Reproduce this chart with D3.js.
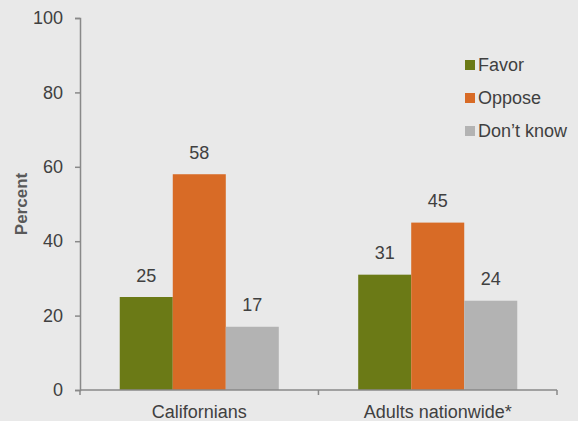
<!DOCTYPE html>
<html>
<head>
<meta charset="utf-8">
<script src="https://cdn.jsdelivr.net/npm/d3@7"></script>
<style>
  html, body { margin: 0; padding: 0; background: #e9e9e9; }
  svg { display: block; font-family: Arial, "Liberation Sans", sans-serif; }
</style>
</head>
<body>
<svg id="chart" width="578" height="421"></svg>
<script>
// Survey responses by group (percent)
const categories = ["Californians", "Adults nationwide*"];
const seriesNames = ["Favor", "Oppose", "Don\u2019t know"];
const favor = [25, 31];
const oppose = [58, 45];
const dontKnow = [17, 24];
const yTicks = [0, 20, 40, 60, 80, 100];
const colors = ["#6b7a16", "#d86b26", "#b3b3b3"];

const seriesValues = [favor, oppose, dontKnow];

const svg = d3.select("#chart");
const margin = { left: 80, right: 21, top: 18, bottom: 31 };
const W = 578, H = 421;

const x0 = d3.scaleBand()
  .domain(categories)
  .range([margin.left, W - margin.right])
  .paddingInner(0.333)
  .paddingOuter(0.1667);

const x1 = d3.scaleBand()
  .domain(seriesNames)
  .range([0, x0.bandwidth()]);

const y = d3.scaleLinear().domain([0, 100]).range([H - margin.bottom, margin.top]);

const axisColor = "#898989";
const textColor = "#404040";
const fontSize = "18px";

// Y axis
const yAxis = svg.append("g")
  .attr("transform", `translate(${margin.left},0)`)
  .call(d3.axisLeft(y).tickValues(yTicks).tickSize(5).tickPadding(12));
yAxis.select(".domain").attr("stroke", axisColor).attr("stroke-width", 1.5);
yAxis.selectAll(".tick line").attr("stroke", axisColor).attr("stroke-width", 1.5);
yAxis.selectAll(".tick text").attr("fill", textColor).style("font-size", fontSize);

// Y axis title
svg.append("text")
  .attr("transform", `translate(27,${(y(0) + y(100)) / 2}) rotate(-90)`)
  .attr("text-anchor", "middle")
  .attr("fill", "#595959")
  .style("font-size", "17px")
  .style("font-weight", "bold")
  .text("Percent");

// Bars
const groups = svg.append("g").selectAll("g")
  .data(categories)
  .join("g")
  .attr("transform", d => `translate(${x0(d)},0)`);

const cells = (c, ci) => seriesNames.map((s, si) => ({ s, si, v: seriesValues[si][ci] }));

groups.selectAll("rect")
  .data(cells)
  .join("rect")
  .attr("x", d => x1(d.s))
  .attr("y", d => y(d.v))
  .attr("width", x1.bandwidth())
  .attr("height", d => y(0) - y(d.v))
  .attr("fill", d => colors[d.si]);

groups.selectAll("text.val")
  .data(cells)
  .join("text")
  .attr("class", "val")
  .attr("x", d => x1(d.s) + x1.bandwidth() / 2)
  .attr("y", d => y(d.v) - 15.5)
  .attr("text-anchor", "middle")
  .attr("fill", textColor)
  .style("font-size", fontSize)
  .text(d => d.v);

// X axis with ticks at category boundaries
const xBase = y(0);
const xAxisG = svg.append("g");
xAxisG.append("line")
  .attr("x1", margin.left).attr("x2", W - margin.right)
  .attr("y1", xBase).attr("y2", xBase)
  .attr("stroke", axisColor).attr("stroke-width", 1.5);
const step = x0.step();
const boundaries = [margin.left, margin.left + step, W - margin.right];
xAxisG.selectAll("line.tick")
  .data(boundaries)
  .join("line")
  .attr("class", "tick")
  .attr("x1", d => d).attr("x2", d => d)
  .attr("y1", xBase).attr("y2", xBase + 5)
  .attr("stroke", axisColor).attr("stroke-width", 1.5);
xAxisG.selectAll("text")
  .data(categories)
  .join("text")
  .attr("x", d => x0(d) + x0.bandwidth() / 2)
  .attr("y", 418)
  .attr("text-anchor", "middle")
  .attr("fill", textColor)
  .style("font-size", fontSize)
  .text(d => d);

// Legend
const legend = svg.append("g").attr("transform", "translate(465,60)");
const li = legend.selectAll("g")
  .data(seriesNames)
  .join("g")
  .attr("transform", (d, i) => `translate(0,${i * 33})`);
li.append("rect")
  .attr("width", 10).attr("height", 10)
  .attr("fill", (d, i) => colors[i]);
li.append("text")
  .attr("x", 13).attr("y", 11)
  .attr("fill", textColor)
  .style("font-size", fontSize)
  .text(d => d);
</script>
</body>
</html>
